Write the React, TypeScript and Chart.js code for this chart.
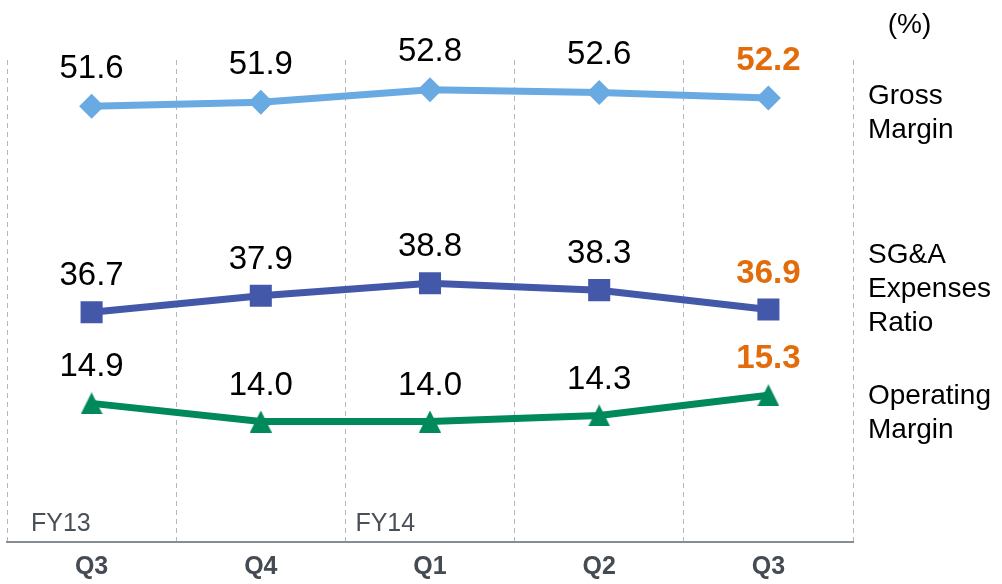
import React, { useEffect, useRef } from "react";
import { Chart, registerables } from "chart.js";

Chart.register(...registerables);

const quarters = ["Q3", "Q4", "Q1", "Q2", "Q3"];
const grossMargin = [51.6, 51.9, 52.8, 52.6, 52.2];
const sgaRatio = [36.7, 37.9, 38.8, 38.3, 36.9];
const operatingMargin = [14.9, 14.0, 14.0, 14.3, 15.3];
const fiscalYears = [
  { index: 0, text: "FY13" },
  { index: 2, text: "FY14" },
];
const seriesNames = [["Gross", "Margin"], ["SG&A", "Expenses", "Ratio"], ["Operating", "Margin"]];
const unitLabel = "(%)";

const FONT = "'Liberation Sans', Arial, sans-serif";

export default function App() {
  const ref = useRef<HTMLCanvasElement | null>(null);

  useEffect(() => {
    document.body.style.margin = "0";
    const canvas = ref.current;
    if (!canvas) return;

    const tri = document.createElement("canvas");
    tri.width = 22;
    tri.height = 22;
    const tctx = tri.getContext("2d")!;
    tctx.fillStyle = "#00895a";
    tctx.beginPath();
    tctx.moveTo(11, 0);
    tctx.lineTo(22, 22);
    tctx.lineTo(0, 22);
    tctx.closePath();
    tctx.fill();

    const labelOffsets = [37.5, 36, 36];
    const labelBlocks = [96, 255.5, 396.5];

    const annotations = {
      id: "annotations",
      afterDatasetsDraw(chart: any) {
        const ctx = chart.ctx as CanvasRenderingContext2D;
        const area = chart.chartArea;
        ctx.save();
        // value labels
        chart.data.datasets.forEach((ds: any, di: number) => {
          const meta = chart.getDatasetMeta(di);
          meta.data.forEach((pt: any, i: number) => {
            const last = i === ds.data.length - 1;
            ctx.font = `${last ? "bold " : ""}33px ${FONT}`;
            ctx.fillStyle = last ? "#e36c0a" : "#000000";
            ctx.textAlign = "center";
            ctx.textBaseline = "middle";
            ctx.fillText(Number(ds.data[i]).toFixed(1), pt.x, pt.y - labelOffsets[di]);
          });
        });
        // series names on the right
        ctx.font = `28px ${FONT}`;
        ctx.fillStyle = "#000000";
        ctx.textAlign = "left";
        ctx.textBaseline = "middle";
        seriesNames.forEach((lines, si) => {
          lines.forEach((line, li) => {
            ctx.fillText(line, area.right + 15, labelBlocks[si] + li * 34);
          });
        });
        // unit label
        ctx.textAlign = "center";
        ctx.fillText(unitLabel, area.right + 56.5, 25);
        // fiscal year labels
        const x = chart.scales.x;
        const half = (x.getPixelForValue(1) - x.getPixelForValue(0)) / 2;
        ctx.font = `25px ${FONT}`;
        ctx.fillStyle = "#4a5058";
        ctx.textAlign = "left";
        fiscalYears.forEach((fy, k) => {
          const left = x.getPixelForValue(fy.index) - half;
          ctx.fillText(fy.text, left + (k === 0 ? 24 : 10), area.bottom - 18);
        });
        ctx.restore();
      },
    };

    const chart = new Chart(canvas, {
      type: "line",
      data: {
        labels: quarters,
        datasets: [
          {
            label: "Gross Margin",
            data: grossMargin,
            yAxisID: "y",
            borderColor: "#6aaae2",
            backgroundColor: "#6aaae2",
            borderWidth: 7,
            pointStyle: "rectRot",
            pointRadius: 12.5,
            pointBackgroundColor: "#6aaae2",
            pointBorderWidth: 0,
            tension: 0,
          },
          {
            label: "SG&A Expenses Ratio",
            data: sgaRatio,
            yAxisID: "y",
            borderColor: "#4358a8",
            backgroundColor: "#4358a8",
            borderWidth: 7,
            pointStyle: "rect",
            pointRadius: 15.6,
            pointBackgroundColor: "#4358a8",
            pointBorderWidth: 0,
            tension: 0,
          },
          {
            label: "Operating Margin",
            data: operatingMargin,
            yAxisID: "y2",
            borderColor: "#00895a",
            backgroundColor: "#00895a",
            borderWidth: 7,
            pointStyle: tri as any,
            pointRadius: 11,
            pointBorderWidth: 0,
            tension: 0,
          },
        ],
      },
      options: {
        responsive: false,
        animation: false,
        events: [],
        layout: { autoPadding: false, padding: { top: 60, left: 7, right: 149, bottom: 0 } },
        plugins: { legend: { display: false }, tooltip: { enabled: false } },
        scales: {
          x: {
            type: "category",
            offset: true,
            grid: { offset: true, drawTicks: false, color: "#b4b8be", lineWidth: 1 },
            border: { display: true, color: "#868d95", width: 2, dash: [5, 4] },
            ticks: {
              font: { family: FONT, size: 25, weight: "bold" },
              color: "#454b53",
              padding: 10,
            },
            afterFit: (s: any) => {
              s.height = 42;
              s.paddingLeft = 0;
              s.paddingRight = 0;
            },
          },
          y: { display: false, min: 20.08, max: 54.95 },
          y2: { display: false, min: 8.02, max: 31.94 },
        },
      },
      plugins: [annotations],
    } as any);

    return () => chart.destroy();
  }, []);

  return (
    <div style={{ width: 1002, height: 584 }}>
      <canvas ref={ref} width={1002} height={584} style={{ display: "block" }} />
    </div>
  );
}
